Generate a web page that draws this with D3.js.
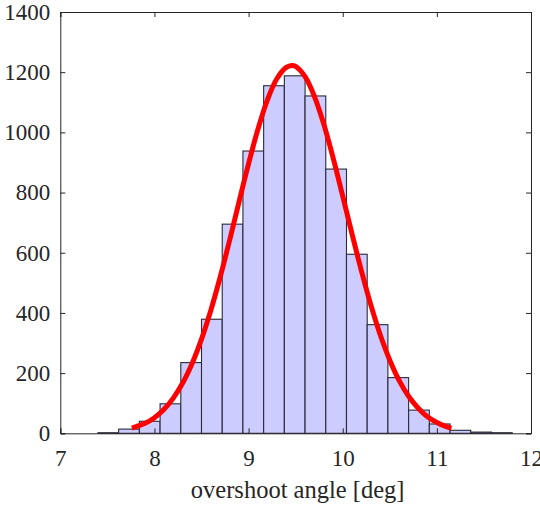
<!DOCTYPE html>
<html><head><meta charset="utf-8">
<script src="https://cdn.jsdelivr.net/npm/d3@7"></script>
<style>body{margin:0;background:#fff;overflow:hidden}
svg text{font-family:"Liberation Serif","Times New Roman",serif !important;}</style>
</head><body><svg id="c" width="540" height="507"></svg>
<script>
// histogram bins (left edges + final right edge) and counts
const binEdges = [7.40,7.62,7.84,8.06,8.28,8.50,8.72,8.94,9.16,9.38,9.60,9.82,10.04,10.26,10.48,10.70,10.92,11.14,11.36,11.58,11.80];
const binCounts = [2,14,40,98,235,379,695,938,1155,1188,1121,878,595,361,185,77,31,10,4,2];
// fitted curve, points
const fitX = [7.76,7.9,8.0,8.1,8.2,8.3,8.4,8.5,8.6,8.7,8.8,8.9,9.0,9.1,9.2,9.3,9.4,9.46,9.5,9.6,9.7,9.8,9.9,10.0,10.1,10.2,10.3,10.4,10.5,10.6,10.7,10.8,10.9,11.0,11.1,11.155];
const fitY = [17,33,52,79,117,167,232,313,410,521,643,771,896,1011,1108,1178,1216,1222,1219,1185,1119,1026,913,788,661,538,425,326,243,175,123,84,55,36,22,17];
const xTicks = [7,8,9,10,11,12];
const yTicks = [0,200,400,600,800,1000,1200,1400];
const xLabel = "overshoot angle [deg]";

const L = 60.3, R = 531, T = 12, B = 433.3;
const svg = d3.select("#c");
const x = d3.scaleLinear().domain([7,12]).range([L,R]);
const y = d3.scaleLinear().domain([0,1400]).range([B,T]);
const axisColor = "#262626";
const font = "Liberation Serif, Times New Roman, serif";

// bars
const bins = binCounts.map((c,i)=>({x0:binEdges[i], x1:binEdges[i+1], c}));
svg.append("g").selectAll("rect").data(bins).join("rect")
  .attr("x", d=>x(d.x0)).attr("width", d=>x(d.x1)-x(d.x0))
  .attr("y", d=>y(d.c)).attr("height", d=>y(0)-y(d.c))
  .attr("fill","#ccccff").attr("stroke","#2a2a3a").attr("stroke-width",1.1);

// curve
const pts = fitX.map((v,i)=>[v,fitY[i]]);
svg.append("path").datum(pts)
  .attr("d", d3.line().x(d=>x(d[0])).y(d=>y(d[1])).curve(d3.curveCatmullRom))
  .attr("fill","none").attr("stroke","#ff0000").attr("stroke-width",5)
  .attr("stroke-linejoin","round");

// axes
const tl = 5;
const gB = svg.append("g").attr("transform",`translate(0,${B})`)
  .call(d3.axisBottom(x).tickValues(xTicks).tickSize(-tl).tickPadding(16).tickFormat(d3.format("d")));
const gT = svg.append("g").attr("transform",`translate(0,${T})`)
  .call(d3.axisTop(x).tickValues(xTicks).tickSize(-tl).tickFormat(""));
const gL = svg.append("g").attr("transform",`translate(${L},0)`)
  .call(d3.axisLeft(y).tickValues(yTicks).tickSize(-tl).tickPadding(10).tickFormat(d3.format("d")));
const gR = svg.append("g").attr("transform",`translate(${R},0)`)
  .call(d3.axisRight(y).tickValues(yTicks).tickSize(-tl).tickFormat(""));
[gB,gT,gL,gR].forEach(g=>{
  g.attr("font-family", font).attr("font-size", 23);
  g.select(".domain").attr("stroke",axisColor).attr("stroke-width",1);
  g.selectAll(".tick line").attr("stroke",axisColor);
  g.selectAll("text").attr("fill",axisColor).attr("font-family",font).attr("font-size",23);
});

svg.append("text").attr("x",(L+R)/2+2).attr("y",498)
  .attr("text-anchor","middle").attr("fill",axisColor)
  .attr("font-family",font).attr("font-size",24.5).text(xLabel);
</script></body></html>
